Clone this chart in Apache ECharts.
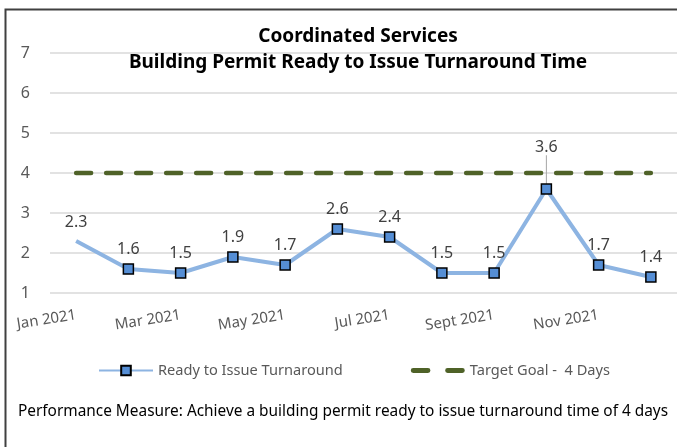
<!DOCTYPE html>
<html>
<head>
<meta charset="utf-8">
<script src="https://cdn.jsdelivr.net/npm/echarts@6/dist/echarts.min.js"></script>
<style>
  html, body {margin: 0; padding: 0; background: #fff;}
  #chart {width: 677px; height: 447px;}
</style>
</head>
<body>
<div id="chart"></div>
<script>
const months = ['Jan 2021', 'Feb 2021', 'Mar 2021', 'Apr 2021', 'May 2021', 'Jun 2021',
  'Jul 2021', 'Aug 2021', 'Sept 2021', 'Oct 2021', 'Nov 2021', 'Dec 2021']
const turnaround = [2.3, 1.6, 1.5, 1.9, 1.7, 2.6, 2.4, 1.5, 1.5, 3.6, 1.7, 1.4]
const targetGoal = [4, 4, 4, 4, 4, 4, 4, 4, 4, 4, 4, 4]
const yTicks = [1, 2, 3, 4, 5, 6, 7]

const font = 'Noto Sans'
const textGray = '#595959'

// first month has no marker in the original, only its label
const turnaroundData = turnaround.map((v, i) => {
  const item = {value: v}
  if (i === 0) item.itemStyle = {color: 'transparent', borderWidth: 0}
  if (i === 9) item.labelLine = {show: true}
  return item
})

const dashIcon = 'path://M2,0h12a2,2 0 0 1 0,4h-12a2,2 0 0 1 0,-4z' +
  'M30,0h12a2,2 0 0 1 0,4h-12a2,2 0 0 1 0,-4z'

const chart = echarts.init(document.getElementById('chart'))
chart.setOption({
  backgroundColor: '#fff',
  animation: false,
  title: [{
    text: 'Coordinated Services\nBuilding Permit Ready to Issue Turnaround Time',
    left: 353,
    top: 19,
    textAlign: 'center',
    textStyle: {fontFamily: font, fontSize: 19, fontWeight: 'bold', color: '#000', lineHeight: 26}
  }, {
    text: 'Performance Measure: Achieve a building permit ready to issue turnaround time of 4 days',
    left: 338,
    top: 399,
    textAlign: 'center',
    textStyle: {fontFamily: font, fontSize: 15.4, fontWeight: 'normal', color: '#000'}
  }],
  graphic: [{
    type: 'rect',
    shape: {x: 5.5, y: 9.5, width: 700, height: 500},
    style: {fill: 'none', stroke: '#404040', lineWidth: 2},
    silent: true
  }],
  legend: {
    top: 358,
    left: 93,
    itemWidth: 54,
    itemHeight: 12,
    itemGap: 68,
    textStyle: {fontFamily: font, fontSize: 14.6, color: textGray},
    data: [
      {name: 'Ready to Issue Turnaround'},
      {name: 'Target Goal -  4 Days', icon: dashIcon, itemStyle: {color: '#4f6228'}}
    ]
  },
  grid: {left: 50, right: -5, top: 53, bottom: 154, containLabel: false},
  xAxis: {
    type: 'category',
    data: months,
    boundaryGap: true,
    axisLine: {show: false},
    axisTick: {show: false},
    axisLabel: {
      interval: 1,
      rotate: 9,
      margin: 22,
      fontFamily: font,
      fontSize: 15,
      color: textGray
    }
  },
  yAxis: {
    type: 'value',
    min: yTicks[0],
    max: yTicks[yTicks.length - 1],
    interval: 1,
    axisLine: {show: false},
    axisTick: {show: false},
    axisLabel: {margin: 20, fontFamily: font, fontSize: 16, color: textGray},
    splitLine: {lineStyle: {color: '#d9d9d9', width: 1.5}}
  },
  series: [{
    name: 'Ready to Issue Turnaround',
    type: 'line',
    data: turnaroundData,
    symbol: 'rect',
    symbolSize: 10,
    lineStyle: {color: '#8db4e2', width: 4},
    itemStyle: {color: '#558ed5', borderColor: '#000', borderWidth: 1.5},
    label: {
      show: true,
      position: 'top',
      distance: 6,
      fontFamily: font,
      fontSize: 16,
      color: '#404040'
    },
    labelLine: {lineStyle: {color: '#a6a6a6', width: 1}},
    labelLayout: (p) => p.dataIndex === 9 ? {dy: -22} : {},
    z: 3
  }, {
    name: 'Target Goal -  4 Days',
    type: 'line',
    data: targetGoal,
    symbol: 'none',
    lineStyle: {color: '#4f6228', width: 4.5, type: [15, 15], cap: 'round'},
    itemStyle: {color: '#4f6228'},
    z: 2
  }]
})
</script>
</body>
</html>
